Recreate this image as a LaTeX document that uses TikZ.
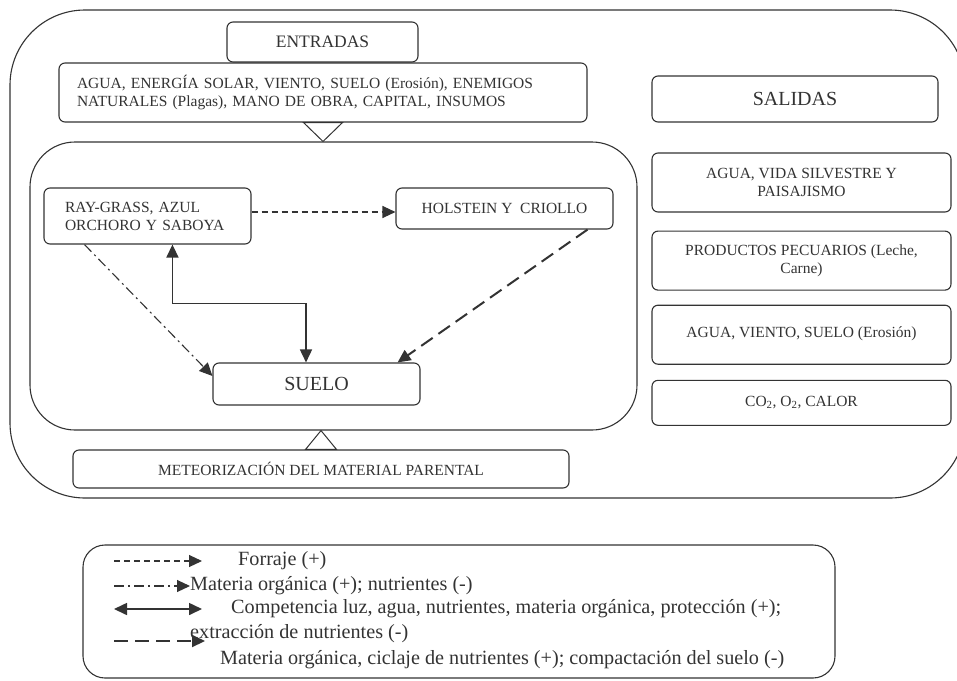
\documentclass[tikz,border=0pt]{standalone}
\usepackage{fontspec}
\setmainfont{Liberation Serif}
\usetikzlibrary{arrows.meta,positioning,calc}
\definecolor{trazo}{RGB}{51,51,51}
\tikzset{
  caja/.style={rectangle, draw=trazo, line width=1.1pt, rounded corners=6pt,
               fill=white, align=center, inner sep=0pt, text=trazo,
               font=\fontsize{15.5}{18}\selectfont},
  titulo/.style={caja, font=\fontsize{20}{24}\selectfont},
  salida/.style={caja, minimum width=299pt, minimum height=59pt},
  punta/.style={-{Triangle[length=13pt,width=12pt]}},
  forraje/.style={punta, trazo, line width=1.1pt, dash pattern=on 6pt off 4pt},
  materia/.style={punta, trazo, line width=1.1pt,
                  dash pattern=on 10pt off 4pt on 2pt off 4pt},
  competencia/.style={{Triangle[length=13pt,width=12pt]}-{Triangle[length=13pt,width=12pt]},
                      trazo, line width=1.6pt},
  extraccion/.style={punta, trazo, line width=2pt, dash pattern=on 14pt off 7pt},
  leyenda/.style={anchor=west, inner sep=0pt, text=trazo,
                  font=\fontsize{20.2}{24}\selectfont},
}

\begin{document}
\begin{tikzpicture}[x=1pt, y=-1pt]
  \path[use as bounding box] (0,0) rectangle (957,680);
  % sistema
  \begin{scope}
    \clip (0,0) rectangle (957,680);
    \draw[trazo, line width=1.1pt, rounded corners=75pt] (10,10) rectangle (965,498);
  \end{scope}
  \node[draw=trazo, line width=1.1pt, rounded corners=45pt,
        minimum width=607pt, minimum height=288pt] (agro) at (333.5,286) {};

  % entradas
  \node[caja, font=\fontsize{17.5}{20}\selectfont, minimum width=191pt,
        minimum height=40pt] (entradas) at (322.5,42) {ENTRADAS};
  \node[caja, minimum width=528pt, minimum height=59pt, text width=492pt,
        align=left, inner xsep=18pt] (insumos) at (323,92.5)
       {AGUA, ENERGÍA SOLAR, VIENTO, SUELO (Erosión), ENEMIGOS\\
        NATURALES (Plagas), MANO DE OBRA, CAPITAL, INSUMOS};
  \draw[trazo, line width=1pt, fill=white] ([xshift=-19.5pt]insumos.south)
       -- ([xshift=19.5pt]insumos.south) -- (insumos.south |- agro.north) -- cycle;

  % componentes
  \node[caja, minimum width=207pt, minimum height=56pt, text width=165pt,
        align=left, inner xsep=21pt] (pastos) at (147.5,216)
       {RAY-GRASS, AZUL\\ORCHORO Y SABOYA};
  \node[caja, minimum width=217pt, minimum height=41pt] (ganado) at (504.5,208.5)
       {HOLSTEIN Y\ \ CRIOLLO};
  \node[titulo, minimum width=207pt, minimum height=42pt] (suelo) at (316.5,384) {SUELO};

  \draw[forraje] ([yshift=4pt]pastos.east) -- ([yshift=4pt]pastos.east -| ganado.west);
  \draw[materia] ([xshift=41pt]pastos.south west) -- ([yshift=8pt]suelo.west);
  \draw[competencia] ([xshift=129pt]pastos.south west) -- ++(0,59)
       -| ([xshift=-10.5pt]suelo.north);
  \draw[extraccion] ([xshift=-26pt]ganado.south east) -- ([xshift=-23pt]suelo.north east);

  % meteorizacion
  \node[caja, minimum width=496pt, minimum height=38pt] (meteoro) at (321,469)
       {METEORIZACIÓN DEL MATERIAL PARENTAL};
  \draw[trazo, line width=1pt, fill=white] ([xshift=-15.5pt]meteoro.north)
       -- ([xshift=15.5pt]meteoro.north) -- (meteoro.north |- agro.south) -- cycle;

  % salidas
  \node[titulo, minimum width=286pt, minimum height=46pt] (salidas) at (795,99) {SALIDAS};
  \node[salida] (paisaje) at (801.5,182.5) {AGUA, VIDA SILVESTRE Y\\PAISAJISMO};
  \node[salida, below=18pt of paisaje] (pecuarios) {PRODUCTOS PECUARIOS (Leche,\\Carne)};
  \node[salida, below=14pt of pecuarios] (erosion)
       {\raisebox{6pt}{AGUA, VIENTO, SUELO (Erosión)}};
  \node[salida, minimum height=45pt, below=15pt of erosion] (gases)
       {CO\textsubscript{2}, O\textsubscript{2}, CALOR};

  % leyenda
  \node[draw=trazo, line width=1.1pt, rounded corners=22pt, minimum width=752pt,
        minimum height=133pt] (cuadro) at (459,611.5) {};
  \coordinate (a1) at (114,561);
  \coordinate (a2) at (114,586);
  \coordinate (a3) at (114,609);
  \coordinate (a4) at (114,641);
  \node[leyenda] (l1) at (238,561) {Forraje (+)};
  \node[leyenda] (l2) at (190,586) {Materia orgánica (+); nutrientes (-)};
  \node[leyenda] (l3) at (231,609)
       {Competencia luz, agua, nutrientes, materia orgánica, protección (+);};
  \node[leyenda] (l4) at (190,634) {extracción de nutrientes (-)};
  \node[leyenda] (l5) at (220,660)
       {Materia orgánica, ciclaje de nutrientes (+); compactación del suelo (-)};
  \draw[forraje] (a1) -- ([xshift=-36pt]l1.west);
  \draw[materia] (a2) -- (l2.west);
  \draw[competencia] (a3) -- ([xshift=-29pt]l3.west);
  \draw[extraccion] (a4) -- ++(91,0);
\end{tikzpicture}
\end{document}
